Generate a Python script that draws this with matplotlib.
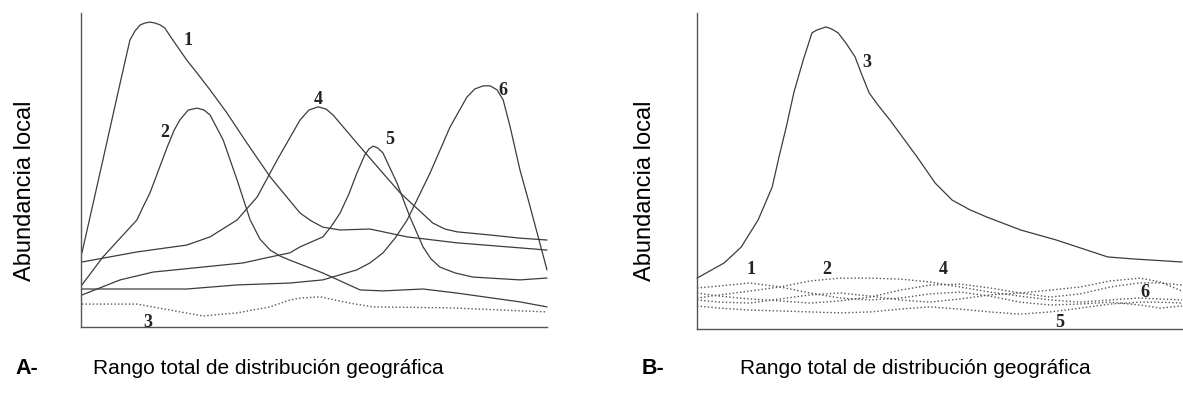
import matplotlib
matplotlib.use("Agg")
import matplotlib.pyplot as plt

# ---------------- Panel A data (x: 0-100 geographic range, y: 0-100 local abundance)
a1_x = [0.2, 4.7, 8.4, 10.5, 11.6, 12.7, 13.7, 14.8, 15.9, 17.0, 18.0, 19.7, 22.7, 24.9, 27.7, 31.3, 35.6, 40.6, 47.0, 49.4, 51.9, 55.6, 62.0, 70.0, 80.7, 94.2, 100]
a1_y = [23.6, 53.2, 77.7, 91.4, 94.3, 96.2, 96.8, 97.1, 96.8, 96.2, 95.2, 91.4, 85.0, 80.9, 75.5, 68.2, 58.6, 47.8, 36.3, 33.8, 31.8, 30.9, 31.2, 28.7, 26.8, 25.2, 24.5]

a2_x = [0.2, 4.7, 12.0, 13.3, 14.8, 18.5, 20.0, 21.2, 23.0, 24.9, 26.4, 27.7, 30.5, 33.5, 36.3, 38.4, 40.6, 42.7, 44.8, 51.9, 59.9, 64.8, 73.4, 80.7, 94.2, 100]
a2_y = [13.4, 22.3, 34.1, 38.2, 42.7, 57.3, 62.7, 65.9, 69.1, 69.7, 69.1, 67.5, 59.6, 46.8, 34.1, 28.0, 24.5, 22.6, 21.3, 17.2, 11.8, 11.5, 12.1, 10.8, 8.0, 6.4]

a3_x = [0.2, 12.0, 19.1, 26.2, 33.5, 40.6, 44.8, 47.0, 51.3, 57.7, 62.7, 79.2, 100]
a3_y = [7.3, 7.3, 5.4, 3.5, 4.5, 6.4, 8.6, 9.2, 9.6, 7.6, 6.4, 6.1, 4.8]

a4_x = [0.2, 12.0, 22.7, 27.7, 33.5, 37.8, 42.1, 44.8, 47.0, 48.9, 50.9, 52.6, 54.1, 59.2, 64.2, 68.5, 75.5, 78.1, 80.7, 87.8, 94.2, 100]
a4_y = [20.7, 23.9, 26.1, 28.7, 34.1, 41.4, 53.2, 60.2, 65.9, 69.1, 70.1, 69.4, 67.5, 58.6, 50.0, 42.7, 33.1, 31.2, 30.3, 29.3, 28.3, 27.7]

a5_x = [0.2, 8.4, 15.5, 26.2, 34.8, 40.6, 44.8, 47.0, 51.9, 53.6, 55.6, 57.5, 59.2, 60.9, 61.8, 62.7, 63.7, 64.8, 67.8, 70.6, 73.4, 75.1, 77.0, 80.3, 84.1, 94.2, 100]
a5_y = [10.2, 15.0, 17.5, 19.1, 20.4, 22.3, 23.6, 25.5, 28.7, 31.8, 36.3, 42.4, 49.0, 54.8, 56.7, 57.6, 57.0, 55.4, 45.9, 35.0, 25.5, 21.7, 19.1, 17.2, 15.9, 15.0, 15.6]

a6_x = [0.2, 22.7, 33.5, 44.8, 51.9, 59.2, 62.0, 64.8, 67.4, 70.0, 74.9, 79.2, 82.8, 84.5, 86.3, 87.8, 89.3, 90.6, 92.1, 94.2, 96.0, 100]
a6_y = [12.1, 12.1, 13.4, 14.0, 15.0, 18.2, 20.4, 23.6, 28.3, 34.1, 49.0, 63.7, 73.2, 75.8, 76.8, 76.8, 75.5, 72.3, 63.7, 50.0, 40.4, 18.2]

a_label_text = ["1", "2", "3", "4", "5", "6"]
a_label_x = [23.0, 18.0, 14.4, 50.9, 66.3, 90.6]
a_label_y = [91.4, 62.1, 1.3, 72.3, 59.6, 75.2]

# ---------------- Panel B data
b3_x = [0, 5.6, 9.1, 12.6, 15.5, 16.9, 18.4, 20.0, 21.9, 23.7, 24.7, 26.6, 27.8, 29.1, 30.7, 32.6, 34.0, 35.5, 37.3, 39.8, 45.4, 49.1, 52.6, 56.3, 59.8, 66.8, 74.0, 84.7, 89.7, 100]
b3_y = [16.1, 20.9, 25.9, 34.5, 44.9, 54.4, 63.9, 75.0, 85.1, 93.7, 94.6, 95.6, 94.9, 93.7, 90.5, 86.1, 80.4, 74.7, 70.9, 66.1, 54.4, 46.2, 40.8, 37.7, 35.4, 31.3, 28.2, 22.8, 22.2, 21.2]

b_x = [0, 4.7, 10.9, 17.1, 23.3, 29.5, 35.7, 41.9, 48.0, 54.2, 60.4, 66.6, 72.8, 79.0, 85.2, 91.3, 95.5, 100]
b1_y = [13.0, 13.6, 14.6, 13.3, 11.4, 9.8, 9.2, 9.8, 11.1, 11.7, 10.4, 8.5, 7.6, 7.9, 8.5, 7.6, 6.6, 7.3]
b2_y = [9.8, 10.8, 12.0, 13.3, 15.2, 16.1, 16.1, 15.8, 14.9, 13.3, 11.7, 10.4, 9.2, 8.5, 9.2, 9.8, 9.5, 9.2]
b4_y = [11.4, 10.4, 9.5, 8.9, 8.2, 8.9, 10.1, 12.3, 13.9, 14.2, 13.0, 11.4, 10.1, 11.1, 13.3, 14.6, 14.6, 13.9]
b5_y = [7.3, 6.6, 6.0, 5.7, 5.4, 5.1, 5.4, 6.3, 7.0, 6.3, 5.4, 4.7, 5.4, 6.6, 7.9, 8.5, 8.5, 8.2]
b6_y = [9.2, 8.5, 8.2, 9.5, 10.8, 11.4, 10.4, 9.2, 8.5, 9.5, 10.8, 11.4, 12.3, 13.3, 15.2, 16.1, 14.9, 12.0]

b_label_text = ["1", "2", "3", "4", "5", "6"]
b_label_x = [11.1, 26.8, 35.1, 50.7, 74.8, 92.4]
b_label_y = [18.7, 18.7, 84.2, 18.7, 2.2, 11.7]

y_label = "Abundancia local"
x_label = "Rango total de distribución geográfica"
panel_tags = ["A-", "B-"]

# ---------------- Figure
fig = plt.figure(figsize=(11.83, 4.05), dpi=100)
W, H = 1183.0, 405.0

def make_axes(left, right, top, bottom):
    ax = fig.add_axes([left / W, 1 - bottom / H, (right - left) / W, (bottom - top) / H])
    ax.set_xlim(0, 100)
    ax.set_ylim(0, 100)
    for s in ["top", "right"]:
        ax.spines[s].set_visible(False)
    for s in ["left", "bottom"]:
        ax.spines[s].set_color("#555555")
        ax.spines[s].set_linewidth(1.0)
    ax.set_xticks([])
    ax.set_yticks([])
    ax.patch.set_alpha(0)
    return ax

axA = make_axes(81, 547, 13, 327)
axB = make_axes(697, 1182, 13, 329)

solid = dict(color="#3c3c3c", lw=0.9, clip_on=False,
             solid_joinstyle="round", solid_capstyle="round")
dotted = dict(color="#555555", lw=1.0, ls=(0, (1, 1.6)), clip_on=False)

for xs, ys in [(a1_x, a1_y), (a2_x, a2_y), (a4_x, a4_y), (a5_x, a5_y), (a6_x, a6_y)]:
    axA.plot(xs, ys, **solid)
axA.plot(a3_x, a3_y, **dotted)

axB.plot(b3_x, b3_y, **solid)
for ys in [b1_y, b2_y, b4_y, b5_y, b6_y]:
    axB.plot(b_x, ys, **dotted)

lab_font = dict(family="Liberation Serif", fontweight="bold", fontsize=13,
                ha="center", va="center", color="#222222")
for t, x, y in zip(a_label_text, a_label_x, a_label_y):
    axA.text(x, y, t, **lab_font)
for t, x, y in zip(b_label_text, b_label_x, b_label_y):
    axB.text(x, y, t, **lab_font)

sans = "Liberation Sans"
fig.text(25 / W, 1 - 191 / H, y_label, rotation=90, ha="center", va="center",
         family=sans, fontsize=17)
fig.text(645 / W, 1 - 191 / H, y_label, rotation=90, ha="center", va="center",
         family=sans, fontsize=17)

fig.text(15 / W, 1 - 368 / H, panel_tags[0], ha="left", va="center",
         family=sans, fontsize=15.5, fontweight="bold")
fig.text(93 / W, 1 - 368 / H, x_label, ha="left", va="center", family=sans, fontsize=15)
fig.text(642 / W, 1 - 368 / H, panel_tags[1], ha="left", va="center",
         family=sans, fontsize=15.5, fontweight="bold")
fig.text(740 / W, 1 - 368 / H, x_label, ha="left", va="center", family=sans, fontsize=15)

fig.savefig("out.png", dpi=100, facecolor="white")
